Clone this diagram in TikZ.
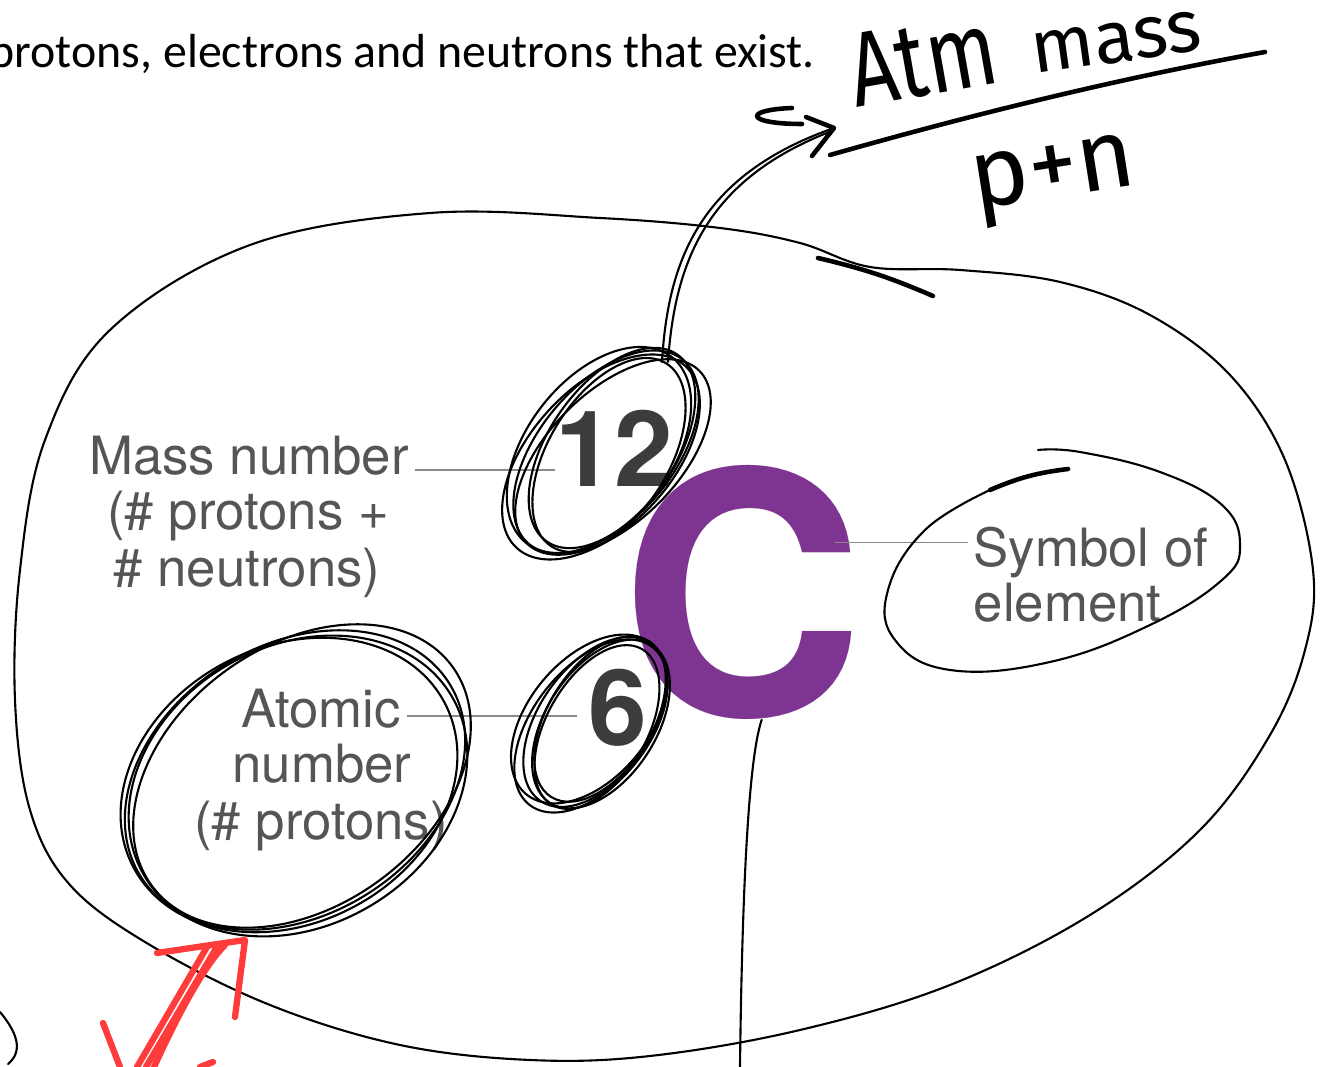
\documentclass[tikz,border=0pt]{standalone}
\usepackage{fontspec}
\setmainfont{Carlito}
\newfontfamily\helv{TeX Gyre Heros}
\newfontfamily\handfont{Fira Sans}
\usetikzlibrary{positioning,arrows.meta,calc}
\definecolor{elempurple}{HTML}{7E3591}
\definecolor{lblgrey}{HTML}{555555}
\definecolor{numgrey}{HTML}{3C3C3C}
\definecolor{leadgrey}{HTML}{8A8A8A}
\definecolor{penred}{HTML}{FF3B3B}

\begin{document}
\begin{tikzpicture}[x=0.01cm, y=-0.01cm,
    every node/.style={inner sep=0pt},
    lbl/.style={font=\helv\fontsize{15}{18}\selectfont, text=lblgrey, anchor=base},
    num/.style={font=\helv\bfseries\fontsize{30}{30}\selectfont, text=numgrey, anchor=base},
    lead/.style={line width=0.45pt, color=leadgrey},
    pen/.style={line width=0.6pt, color=black, line cap=round, line join=round},
    penthick/.style={line width=1.3pt, color=black, line cap=round, line join=round},
    redpen/.style={line width=1.8pt, color=penred, line cap=round, line join=round},
    hand/.style={font=\handfont\fontsize{#1}{#1}\selectfont, anchor=base west, transform shape}
  ]
  \fill[white] (0,0) rectangle (1332,1067);
  \useasboundingbox (0,0) rectangle (1332,1067);

  % ============ slide text ==============================================
  \node[font=\fontsize{13.6}{15}\selectfont, anchor=base west] (intro) at (-11,68)
    {protons, electrons and neutrons that exist.};

  % ============ the element box =========================================
  \node[font=\helv\bfseries\fontsize{96}{96}\selectfont, text=elempurple] (sym) at (742,592) {C};
  \node[num] (n12) at (614,487) {12};
  \node[num] (n6)  at (618,746) {6};

  \node[lbl] (massA) at (249,475) {Mass number};
  \node[lbl] (massB) at (248,530) {(\# protons +};
  \node[lbl] (massC) at (247,587) {\# neutrons)};

  \node[lbl] (atomA) at (321,728) {Atomic};
  \node[lbl] (atomB) at (322,783) {number};
  \node[lbl] (atomC) at (321,840) {(\# protons)};

  \node[lbl, anchor=base west] (symA) at (973,567) {Symbol of};
  \node[lbl, anchor=base west] (symB) at (973,622) {element};

  \draw[lead] ([xshift=1.5pt, yshift=1.4pt]massA.base east) -- ([yshift=1.4pt]massA.base east -| n12.west);
  \draw[lead] ([xshift=1.5pt, yshift=3.4pt]atomA.base east) -- ([xshift=-3pt, yshift=3.4pt]atomA.base east -| n6.west);
  \draw[lead] ([xshift=-1.5pt, yshift=7pt]symA.base west) -- ([xshift=-8.5pt, yshift=7pt]symA.base west -| sym.east);

  % ============ pen notes ===============================================
  % big loop round everything
  \draw[pen] plot[smooth cycle, tension=0.6] coordinates {
    (430,213) (600,218) (720,228) (800,243) (870,267) (960,270) (1060,282)
    (1150,315) (1230,375) (1285,460) (1313,570) (1305,650) (1270,735)
    (1200,830) (1090,915) (950,985) (800,1030) (650,1056) (530,1060)
    (400,1045) (270,1005) (150,945) (70,885) (30,810) (15,700) (20,570)
    (45,440) (110,330) (250,245)};
  \draw[penthick] (818,258) to[bend left=5] (933,296);

  % scribbled rings
  \foreach \dx/\dy/\a/\b/\r in {0/0/120/67/50, 6/-4/114/63/55, -5/5/124/70/47,
                               3/3/108/60/58, -7/-2/118/72/52, 7/5/122/65/45}
    \draw[pen, rotate around={\r:(606+\dx,452+\dy)}]
      (606+\dx,452+\dy) ellipse [x radius=\a, y radius=\b];
  \foreach \dx/\dy/\a/\b/\r in {0/0/96/56/55, 5/-3/92/52/58, -4/4/100/58/52,
                               2/5/90/50/60, -6/-3/98/60/50, 6/2/94/55/57}
    \draw[pen, rotate around={\r:(595+\dx,722+\dy)}]
      (595+\dx,722+\dy) ellipse [x radius=\a, y radius=\b];
  \foreach \dx/\dy/\a/\b/\r in {0/0/182/135/32, -6/5/176/138/28,
                               7/-4/186/130/36, 3/6/178/140/30}
    \draw[pen, rotate around={\r:(295+\dx,780+\dy)}]
      (295+\dx,780+\dy) ellipse [x radius=\a, y radius=\b];

  % loop round the symbol label
  \draw[pen] plot[smooth, tension=0.7] coordinates {
    (990,490) (925,530) (888,590) (895,640) (950,670) (1050,662) (1150,625)
    (1222,580) (1240,545) (1222,505) (1160,472) (1080,452) (1038,450)};
  \draw[penthick] (1068,469) to[bend right=8] (990,490);

  % line down from the symbol
  \coordinate (lineEnd) at (740,1067);
  \draw[pen] ([xshift=5.6pt]sym.south) .. controls (748,760) and (742,900) .. (lineEnd);

  % arrow up to the note
  \coordinate (scrTop) at (662,362);
  \coordinate (atmTip) at (834,128);
  \draw[pen] (scrTop) .. controls (668,260) and (700,175) .. (atmTip);
  \draw[pen] ([xshift=1.7pt]scrTop) .. controls (675,262) and (706,180) .. ([xshift=-1pt, yshift=-1pt]atmTip);
  \draw[penthick] ($(atmTip)+(-28,-11)$) -- (atmTip) -- ($(atmTip)+(-22,28)$);
  \draw[penthick] (792,108) .. controls (742,110) and (746,124) .. (802,124);

  % the note itself
  \node[hand=30, rotate=10, xscale=0.78] (atm) at (856,108) {Atm};
  \node[hand=21, rotate=8] (mass) at (1034,74) {mass};
  \draw[penthick] (830,155) .. controls (960,118) and (1110,80) .. (1265,52);
  \node[hand=28, rotate=9] (pn) at (975,210) {p+n};

  % ============ red marks ===============================================
  \draw[redpen] (137,1067) -- (207,947);
  \draw[redpen] (146,1067) -- (218,945);
  \draw[redpen] (154,1067) .. controls (180,1010) and (205,965) .. (225,945);
  \draw[redpen] (157,953) -- (245,940) -- (235,1017);
  \draw[redpen] (103,1023) -- (120,1067);
  \draw[redpen] (200,1067) -- (213,1062);

  % stray stroke at the left edge
  \draw[pen] (0,1012) .. controls (15,1030) and (25,1050) .. (8,1064);
\end{tikzpicture}
\end{document}
